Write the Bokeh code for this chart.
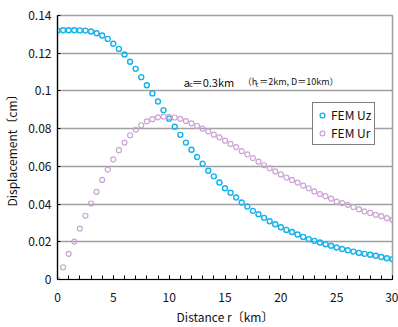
from bokeh.plotting import figure
from bokeh.embed import file_html
from bokeh.resources import INLINE
from bokeh.models import (ColumnDataSource, FixedTicker, CustomJSTickFormatter,
                          Legend, LegendItem, Label)

distance_km = [0.0, 0.5, 1.0, 1.5, 2.0, 2.5, 3.0, 3.5, 4.0, 4.5, 5.0, 5.5, 6.0, 6.5,
               7.0, 7.5, 8.0, 8.5, 9.0, 9.5, 10.0, 10.5, 11.0, 11.5, 12.0, 12.5,
               13.0, 13.5, 14.0, 14.5, 15.0, 15.5, 16.0, 16.5, 17.0, 17.5, 18.0,
               18.5, 19.0, 19.5, 20.0, 20.5, 21.0, 21.5, 22.0, 22.5, 23.0, 23.5,
               24.0, 24.5, 25.0, 25.5, 26.0, 26.5, 27.0, 27.5, 28.0, 28.5, 29.0,
               29.5, 30.0]

fem_uz = [0.1320, 0.1322, 0.1322, 0.1322, 0.1321, 0.1320, 0.1315, 0.1306, 0.1294,
          0.1276, 0.1250, 0.1223, 0.1193, 0.1155, 0.1117, 0.1073, 0.1030, 0.0987,
          0.0944, 0.0898, 0.0853, 0.0810, 0.0767, 0.0726, 0.0688, 0.0650, 0.0614,
          0.0577, 0.0547, 0.0514, 0.0484, 0.0460, 0.0435, 0.0408, 0.0387, 0.0364,
          0.0346, 0.0327, 0.0309, 0.0293, 0.0277, 0.0263, 0.0252, 0.0239, 0.0226,
          0.0214, 0.0205, 0.0196, 0.0187, 0.0179, 0.0170, 0.0162, 0.0155, 0.0148,
          0.0141, 0.0136, 0.0131, 0.0126, 0.0119, 0.0113, 0.0108]

fem_ur = [0.0000, 0.0065, 0.0136, 0.0201, 0.0270, 0.0338, 0.0403, 0.0465, 0.0528,
          0.0583, 0.0637, 0.0686, 0.0726, 0.0765, 0.0794, 0.0818, 0.0839, 0.0850,
          0.0860, 0.0864, 0.0862, 0.0859, 0.0852, 0.0840, 0.0828, 0.0814, 0.0800,
          0.0786, 0.0768, 0.0754, 0.0736, 0.0719, 0.0702, 0.0681, 0.0664, 0.0644,
          0.0625, 0.0606, 0.0590, 0.0573, 0.0557, 0.0541, 0.0527, 0.0514, 0.0498,
          0.0484, 0.0467, 0.0453, 0.0442, 0.0429, 0.0413, 0.0405, 0.0396, 0.0384,
          0.0372, 0.0361, 0.0353, 0.0343, 0.0336, 0.0325, 0.0316]

x_ticks = [0, 5, 10, 15, 20, 25, 30]
y_ticks = [0, 0.02, 0.04, 0.06, 0.08, 0.1, 0.12, 0.14]
series_names = ["FEM Uz", "FEM Ur"]

FONT = "Noto Sans CJK JP"
UZ_COLOR = "#14B2EA"
UR_COLOR = "#C9A3D3"

src = ColumnDataSource(dict(x=distance_km, uz=fem_uz, ur=fem_ur))

p = figure(width=398, height=327, x_range=(0, 30), y_range=(0, 0.14),
           output_backend="svg", toolbar_location=None,
           min_border_left=57, min_border_right=6, min_border_top=15,
           min_border_bottom=48)

p.background_fill_color = "white"
p.border_fill_color = "white"
p.outline_line_color = "#A0A0A0"
p.outline_line_width = 1.5

r_uz = p.scatter("x", "uz", source=src, size=5, marker="circle",
                 line_color=UZ_COLOR, line_width=1.4, fill_color=None)
r_ur = p.scatter("x", "ur", source=src, size=5, marker="circle",
                 line_color=UR_COLOR, line_width=1.2, fill_color=None)

# grids
p.xgrid.grid_line_color = None
p.ygrid.ticker = FixedTicker(ticks=y_ticks)
p.ygrid.grid_line_color = "#A0A0A0"
p.ygrid.grid_line_width = 1.5

# x axis
xa = p.xaxis[0]
xa.ticker = FixedTicker(ticks=x_ticks, minor_ticks=list(range(0, 31)))
xa.axis_line_color = "black"
xa.axis_line_width = 1.2
xa.major_tick_in = 4
xa.major_tick_out = 0
xa.minor_tick_in = 4
xa.minor_tick_out = 0
xa.major_tick_line_color = "black"
xa.minor_tick_line_color = "black"
xa.major_label_standoff = 13
xa.major_label_text_font = FONT
xa.major_label_text_font_size = "12px"
xa.major_label_text_color = "#111111"
xa.axis_label = "Distance r〔km〕"
xa.axis_label_text_font = FONT
xa.axis_label_text_font_size = "12px"
xa.axis_label_text_font_style = "normal"
xa.axis_label_text_color = "#111111"
xa.axis_label_standoff = 3

# y axis
ya = p.yaxis[0]
ya.ticker = FixedTicker(ticks=y_ticks)
ya.formatter = CustomJSTickFormatter(code="return String(Math.round(tick*100)/100);")
ya.axis_line_color = "black"
ya.axis_line_width = 1.2
ya.major_tick_in = 3
ya.major_tick_out = 0
ya.minor_tick_line_color = None
ya.major_tick_line_color = "black"
ya.major_label_standoff = 6
ya.major_label_text_font = FONT
ya.major_label_text_font_size = "12px"
ya.major_label_text_color = "#111111"
ya.axis_label = "Displacement〔cm〕"
ya.axis_label_text_font = FONT
ya.axis_label_text_font_size = "12px"
ya.axis_label_text_font_style = "normal"
ya.axis_label_text_color = "#111111"
ya.axis_label_standoff = 5

# legend
legend = Legend(items=[LegendItem(label=series_names[0], renderers=[r_uz]),
                       LegendItem(label=series_names[1], renderers=[r_ur])])
legend.label_text_font = FONT
legend.label_text_font_size = "12px"
legend.label_text_color = "#111111"
legend.border_line_color = "black"
legend.border_line_width = 1
legend.background_fill_alpha = 1
legend.padding = 3
legend.spacing = 1
legend.margin = 0
legend.glyph_width = 12
legend.glyph_height = 16
legend.label_height = 16
legend.label_standoff = 3
legend.location = (255, 134)
p.add_layout(legend)

# annotation
ax, ay = 11.3, 0.105
def lab(text, dx, dy, size):
    p.add_layout(Label(x=ax, y=ay, x_offset=dx, y_offset=dy, text=text,
                       text_font=FONT, text_font_size=size,
                       text_color="#111111", text_baseline="alphabetic"))

lab("a", 0, 0, "11px")
lab("c", 5.5, -2.5, "7px")
lab("＝0.3km", 8, 0, "11px")
lab("（h", 59, 0, "9px")
lab("c", 72, -2.5, "6px")
lab("＝2km, D＝10km）", 75.5, 0, "9px")

open("out.html", "w").write(file_html(p, INLINE))
